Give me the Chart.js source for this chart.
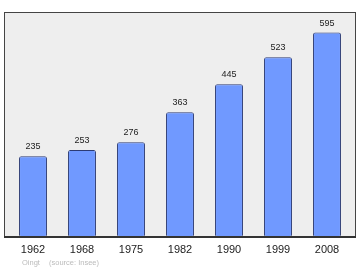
<!DOCTYPE html>
<html>
<head>
<meta charset="utf-8">
<script src="https://cdn.jsdelivr.net/npm/chart.js@4/dist/chart.umd.min.js"></script>
<style>
  html, body { margin: 0; padding: 0; background: #ffffff; }
  #chart { display: block; }
</style>
</head>
<body>
<canvas id="chart" width="360" height="270"></canvas>
<script>
// ------------------- Data -------------------
const years = ['1962', '1968', '1975', '1982', '1990', '1999', '2008'];
const population = [235, 253, 276, 363, 445, 523, 595];
const sourceNote = ['Oingt', '(source: Insee)'];

// ------------------- Plugin: frame, labels, note -------------------
// Draws the grey panel, the value above each bar and the year under it
const framePlugin = {
  id: 'framePlugin',
  beforeDraw(chart) {
    const { ctx, chartArea } = chart;
    const left = 4.5, right = 355.5;
    ctx.save();
    ctx.fillStyle = '#eeeeee';
    ctx.fillRect(left, chartArea.top, right - left, chartArea.bottom - chartArea.top);
    ctx.restore();
  },
  afterDatasetsDraw(chart) {
    const { ctx, chartArea } = chart;
    const left = 4.5, right = 355.5;
    const meta = chart.getDatasetMeta(0);
    const xScale = chart.scales.x;

    ctx.save();
    // frame
    ctx.strokeStyle = '#444444';
    ctx.lineWidth = 1;
    ctx.strokeRect(left, chartArea.top + 0.5, right - left, chartArea.bottom - chartArea.top);
    // heavier base line
    ctx.strokeStyle = '#333333';
    ctx.lineWidth = 2;
    ctx.beginPath();
    ctx.moveTo(left - 0.5, chartArea.bottom);
    ctx.lineTo(right + 0.5, chartArea.bottom);
    ctx.stroke();

    // values above bars
    ctx.fillStyle = '#222222';
    ctx.font = '9px "Liberation Sans", Arial, sans-serif';
    ctx.textAlign = 'center';
    ctx.textBaseline = 'alphabetic';
    meta.data.forEach((bar, i) => {
      ctx.fillText(String(population[i]), bar.x, bar.y - 7);
    });

    // years under bars
    ctx.font = '11px "Liberation Sans", Arial, sans-serif';
    ctx.fillStyle = '#222222';
    years.forEach((y, i) => {
      ctx.fillText(y, xScale.getPixelForValue(i), 253);
    });

    // source note
    ctx.font = '7.5px "Liberation Sans", Arial, sans-serif';
    ctx.fillStyle = '#bbbbbb';
    ctx.textAlign = 'left';
    ctx.fillText(sourceNote[0], 22, 265);
    ctx.fillText(sourceNote[1], 49, 265);
    ctx.restore();
  }
};

// ------------------- Chart -------------------
const ctx = document.getElementById('chart').getContext('2d');
new Chart(ctx, {
  type: 'bar',
  data: {
    labels: years,
    datasets: [{
      data: population,
      backgroundColor: '#7099ff',
      borderColor: '#2c3b74',
      borderWidth: 1,
      borderSkipped: false,
      borderRadius: 2,
      barPercentage: 0.57,
      categoryPercentage: 1.0
    }]
  },
  options: {
    responsive: false,
    animation: false,
    layout: {
      padding: { left: 8.5, right: 8.5, top: 12, bottom: 33 }
    },
    plugins: {
      legend: { display: false },
      tooltip: { enabled: false }
    },
    scales: {
      x: { display: false },
      y: { display: false, min: 0, max: 655 }
    }
  },
  plugins: [framePlugin]
});
</script>
</body>
</html>
